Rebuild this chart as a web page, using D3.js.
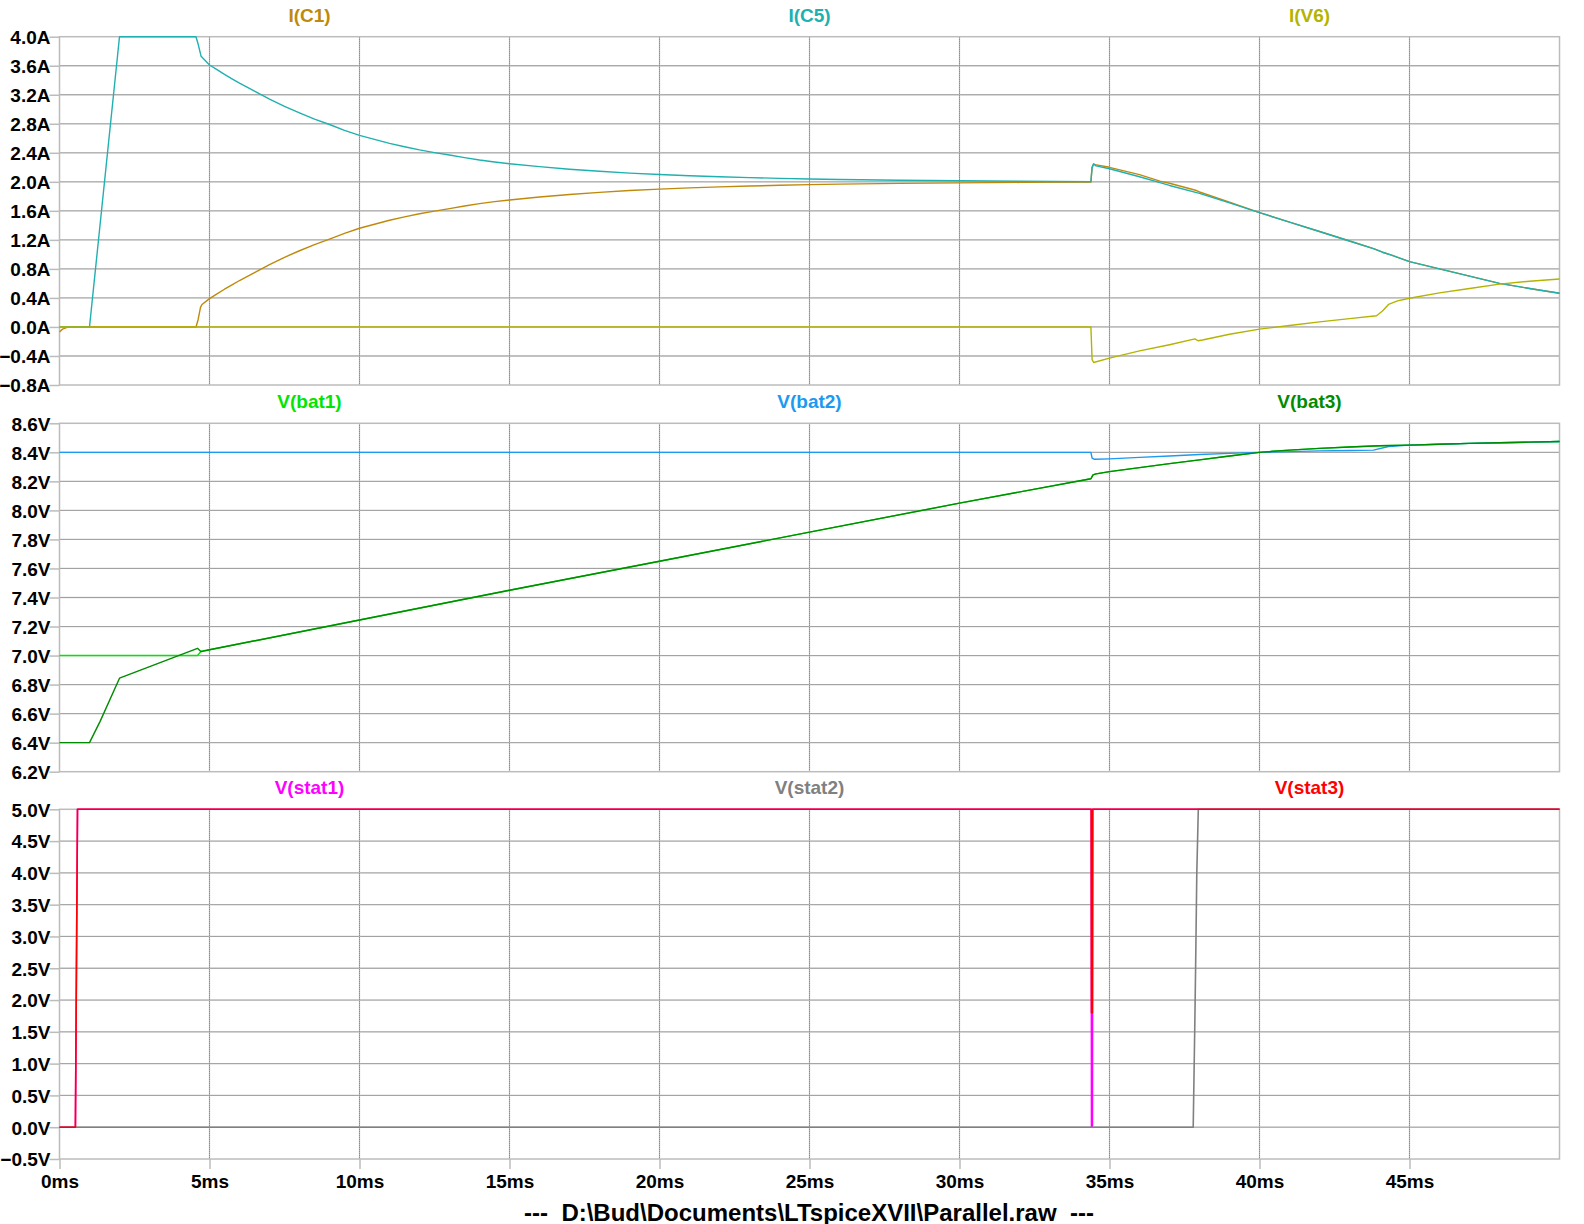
<!DOCTYPE html>
<html>
<head>
<meta charset="utf-8">
<script src="https://cdn.jsdelivr.net/npm/d3@7"></script>
<style>
  html, body { margin: 0; padding: 0; background: #ffffff; }
  svg { display: block; }
  text { font-family: "Liberation Sans", Arial, sans-serif; font-weight: bold; }
</style>
</head>
<body>
<svg id="chart" width="1584" height="1224"></svg>
<script>
// ---------------- DATA (time in ms) ----------------
const timeTicks = [0, 5, 10, 15, 20, 25, 30, 35, 40, 45];
const timeDomain = [0, 50];

const currentTicks = [-0.8, -0.4, 0.0, 0.4, 0.8, 1.2, 1.6, 2.0, 2.4, 2.8, 3.2, 3.6, 4.0];
const batTicks = [6.2, 6.4, 6.6, 6.8, 7.0, 7.2, 7.4, 7.6, 7.8, 8.0, 8.2, 8.4, 8.6];
const statTicks = [-0.5, 0.0, 0.5, 1.0, 1.5, 2.0, 2.5, 3.0, 3.5, 4.0, 4.5, 5.0];

const iC1 = [[0,-0.07],[0.1,-0.03],[0.3,0],[4.55,0],[4.62,0.1],[4.7,0.27],[4.75,0.31],[5,0.39],[5.25,0.455],[5.5,0.52],[5.75,0.58],[6,0.64],[6.25,0.695],[6.5,0.75],[6.75,0.805],[7,0.86],[7.5,0.96],[8,1.05],[8.5,1.135],[9,1.21],[9.5,1.29],[10,1.36],[10.5,1.415],[11,1.47],[11.5,1.517],[12,1.56],[12.5,1.597],[13,1.63],[13.5,1.667],[14,1.7],[14.5,1.727],[15,1.75],[16,1.79],[17,1.826],[18,1.855],[19,1.88],[20,1.9],[21,1.916],[22,1.93],[23,1.942],[24,1.952],[25,1.961],[26,1.968],[28,1.978],[30,1.986],[32,1.992],[34.38,1.997],[34.42,2.2],[34.47,2.24],[35,2.2],[36,2.1],[36.68,2.01],[37,1.98],[37.9,1.88],[38,1.86],[39,1.72],[40,1.575],[41,1.445],[42,1.315],[43,1.185],[43.8,1.08],[44.1,1.03],[44.4,0.99],[45,0.9],[46,0.8],[47,0.7],[48,0.6],[49,0.53],[50,0.465]];

const iC5 = [[0,0],[1.0,0],[2.0,4.0],[4.55,4.0],[4.62,3.9],[4.72,3.73],[5,3.61],[5.25,3.545],[5.5,3.48],[5.75,3.42],[6,3.36],[6.25,3.305],[6.5,3.25],[6.75,3.195],[7,3.14],[7.5,3.04],[8,2.95],[8.5,2.865],[9,2.79],[9.5,2.71],[10,2.64],[10.5,2.585],[11,2.53],[11.5,2.483],[12,2.44],[12.5,2.403],[13,2.37],[13.5,2.333],[14,2.3],[14.5,2.273],[15,2.25],[16,2.21],[17,2.174],[18,2.145],[19,2.12],[20,2.1],[21,2.084],[22,2.07],[23,2.058],[24,2.048],[25,2.039],[26,2.032],[28,2.022],[30,2.014],[32,2.008],[34.38,2.003],[34.42,2.2],[34.47,2.25],[34.55,2.22],[35,2.18],[36,2.07],[36.68,1.99],[37,1.95],[38,1.84],[39,1.71],[40,1.575],[41,1.445],[42,1.315],[43,1.185],[43.8,1.08],[44.1,1.03],[44.4,0.99],[45,0.9],[46,0.8],[47,0.7],[48,0.6],[49,0.53],[50,0.465]];

const iV6 = [[0,0],[34.38,0],[34.42,-0.45],[34.47,-0.49],[35,-0.43],[36,-0.33],[37,-0.245],[37.85,-0.165],[37.95,-0.19],[38.1,-0.18],[39,-0.1],[40,-0.03],[41,0.02],[42,0.07],[43,0.115],[43.9,0.155],[44.1,0.22],[44.3,0.31],[44.6,0.36],[45,0.395],[46,0.47],[47,0.53],[48,0.59],[49,0.63],[50,0.66]];

const vBat1 = [[0,7.0],[4.6,7.0],[4.72,7.03],[5,7.04],[10,7.245],[15,7.45],[20,7.65],[25,7.85],[30,8.05],[34.38,8.218],[34.45,8.245],[34.55,8.252],[35,8.267],[36,8.295],[37,8.322],[38,8.348],[39,8.375],[40,8.4],[41,8.415],[42,8.427],[43,8.437],[44,8.445],[45,8.45],[46,8.456],[47,8.462],[48,8.466],[49,8.47],[50,8.475]];

const vBat2 = [[0,8.4],[34.38,8.4],[34.42,8.36],[34.5,8.352],[35,8.355],[36,8.365],[37,8.375],[38,8.385],[39,8.393],[40,8.4],[41,8.405],[42,8.41],[43,8.413],[43.8,8.415],[44.3,8.44],[45,8.45],[46,8.456],[47,8.462],[48,8.466],[49,8.47],[50,8.475]];

const vBat3 = [[0,6.4],[1.0,6.4],[1.35,6.545],[2.0,6.844],[4.6,7.05],[4.72,7.027],[5,7.04],[10,7.245],[15,7.45],[20,7.65],[25,7.85],[30,8.05],[34.38,8.218],[34.45,8.245],[34.55,8.252],[35,8.267],[36,8.295],[37,8.322],[38,8.348],[39,8.375],[40,8.4],[41,8.415],[42,8.427],[43,8.437],[44,8.445],[45,8.45],[46,8.456],[47,8.462],[48,8.466],[49,8.47],[50,8.475]];

const vStat1 = [[0,0],[0.53,0],[0.6,5],[34.39,5],[34.4,0],[34.43,0],[34.44,5],[50,5]];
const vStat2 = [[0,0],[37.79,0],[37.84,1.5],[37.87,2.5],[37.91,4],[37.96,5],[50,5]];
const vStat3 = [[0,0],[0.53,0],[0.6,5],[34.39,5],[34.4,1.8],[34.43,1.8],[34.44,5],[50,5]];

const fileTitle = "---  D:\\Bud\\Documents\\LTspiceXVII\\Parallel.raw  ---";

// ---------------- LAYOUT ----------------
const X0 = 59.5, X1 = 1559.5;
const panels = [
  { top: 36.7, bottom: 385, domain: [-0.8, 4.0], ticks: currentTicks, unit: "A",
    traces: [
      { name: "I(C1)", data: iC1, color: "#bf8a0c" },
      { name: "I(C5)", data: iC5, color: "#20b0b0" },
      { name: "I(V6)", data: iV6, color: "#b4b400" } ] },
  { top: 423.3, bottom: 771.7, domain: [6.2, 8.6], ticks: batTicks, unit: "V",
    traces: [
      { name: "V(bat1)", data: vBat1, color: "#00e600" },
      { name: "V(bat2)", data: vBat2, color: "#1a9af0" },
      { name: "V(bat3)", data: vBat3, color: "#008c00" } ] },
  { top: 809.3, bottom: 1159, domain: [-0.5, 5.0], ticks: statTicks, unit: "V",
    traces: [
      { name: "V(stat1)", data: vStat1, color: "#ff00ff" },
      { name: "V(stat2)", data: vStat2, color: "#808080" },
      { name: "V(stat3)", data: vStat3, color: "#ff0000" } ] }
];

const svg = d3.select("#chart");
const x = d3.scaleLinear().domain(timeDomain).range([X0, X1]);
const fmt = d3.format(".1f");

panels.forEach((p, pi) => {
  const y = d3.scaleLinear().domain(p.domain).range([p.bottom, p.top]);
  const g = svg.append("g");

  // horizontal grid lines
  p.ticks.forEach(t => {
    const yy = y(t);
    if (Math.abs(yy - p.top) < 0.5 || Math.abs(yy - p.bottom) < 0.5) return;
    g.append("line").attr("x1", X0).attr("x2", X1).attr("y1", yy).attr("y2", yy)
      .attr("stroke", "#d0d0d0").attr("stroke-width", 1.3);
    g.append("line").attr("x1", X0).attr("x2", X1).attr("y1", yy).attr("y2", yy)
      .attr("stroke", "#707070").attr("stroke-width", 1).attr("stroke-dasharray", "1,1");
  });
  // vertical grid lines
  timeTicks.forEach(t => {
    if (t === 0) return;
    const xx = x(t);
    g.append("line").attr("x1", xx).attr("x2", xx).attr("y1", p.top).attr("y2", p.bottom)
      .attr("stroke", "#d0d0d0").attr("stroke-width", 1.3);
    g.append("line").attr("x1", xx).attr("x2", xx).attr("y1", p.top).attr("y2", p.bottom)
      .attr("stroke", "#707070").attr("stroke-width", 1).attr("stroke-dasharray", "1,1");
  });
  // frame
  g.append("rect").attr("x", X0).attr("y", p.top).attr("width", X1 - X0).attr("height", p.bottom - p.top)
    .attr("fill", "none").attr("stroke", "#bcbcbc").attr("stroke-width", 1.5);

  // y axis via d3 axis
  const yAxis = d3.axisLeft(y).tickValues(p.ticks).tickSize(10).tickPadding(0)
    .tickFormat(d => fmt(d) + p.unit);
  const ag = svg.append("g").attr("transform", `translate(${X0},0)`).call(yAxis);
  ag.select(".domain").remove();
  ag.selectAll(".tick line").attr("stroke", "#bcbcbc").attr("stroke-width", 1.5);
  ag.selectAll(".tick text").attr("font-size", 19).attr("fill", "#000")
    .attr("font-family", "'Liberation Sans', Arial, sans-serif").attr("font-weight", "bold")
    .attr("x", -9).attr("dy", "0.36em");

  // traces
  const line = d3.line().x(d => x(d[0])).y(d => y(d[1]));
  p.traces.forEach(tr => {
    svg.append("path").datum(tr.data).attr("d", line)
      .attr("fill", "none").attr("stroke", tr.color)
      .attr("stroke-width", pi === 2 ? 1.6 : 1.4)
      .attr("stroke-linejoin", "round");
  });

  // trace names
  p.traces.forEach((tr, i) => {
    svg.append("text").attr("x", X0 + (X1 - X0) * (2 * i + 1) / 6).attr("y", p.top - 21.5)
      .attr("text-anchor", "middle").attr("dominant-baseline", "central")
      .attr("font-size", 19).attr("fill", tr.color).text(tr.name);
  });

  // x axis on last panel
  if (pi === panels.length - 1) {
    const xAxis = d3.axisBottom(x).tickValues(timeTicks).tickSize(10).tickPadding(6)
      .tickFormat(d => d + "ms");
    const xg = svg.append("g").attr("transform", `translate(0,${p.bottom})`).call(xAxis);
    xg.select(".domain").remove();
    xg.selectAll(".tick line").attr("stroke", "#bcbcbc").attr("stroke-width", 1.5);
    xg.selectAll(".tick text").attr("font-size", 19).attr("fill", "#000")
      .attr("font-family", "'Liberation Sans', Arial, sans-serif").attr("font-weight", "bold");
  }
});

svg.append("text").attr("x", 809).attr("y", 1212).attr("text-anchor", "middle")
  .attr("dominant-baseline", "central").attr("font-size", 24).attr("fill", "#000")
  .style("white-space", "pre").attr("xml:space", "preserve").text(fileTitle);
</script>
</body>
</html>
